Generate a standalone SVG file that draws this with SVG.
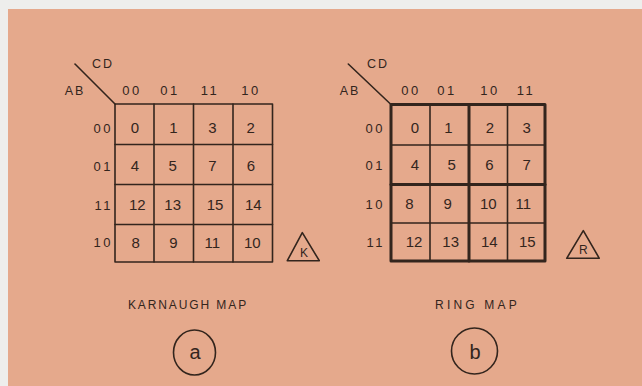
<svg xmlns="http://www.w3.org/2000/svg" width="642" height="386" viewBox="0 0 642 386">
<style>
.ink{fill:none;stroke:#33251d;stroke-linecap:round;stroke-linejoin:round}
.thin{stroke-width:1.6}
.thick{stroke-width:3}
text{font-family:"Liberation Sans","DejaVu Sans",sans-serif;fill:#33251d;text-anchor:middle}
.cell{font-size:15px}
.hdr{font-size:13px;letter-spacing:2.5px}
.row{font-size:13px;letter-spacing:2.5px;text-anchor:end}
.ax{font-size:12.5px;letter-spacing:2px}
.title{font-size:12px}
.tri{font-size:12px}
.cap{font-size:20px}
</style>
<rect x="0" y="0" width="642" height="386" fill="#eeeeec"/>
<rect x="8" y="9" width="634" height="377" fill="#e5a98c"/>

<g id="karnaugh-map">
  <g class="ink thin">
    <line x1="75" y1="64" x2="115" y2="104"/>
    <rect x="115" y="104" width="157.5" height="158"/>
    <line x1="154" y1="104" x2="154" y2="262"/>
    <line x1="193.5" y1="104" x2="193.5" y2="262"/>
    <line x1="233" y1="104" x2="233" y2="262"/>
    <line x1="115" y1="144.5" x2="272.5" y2="144.5"/>
    <line x1="115" y1="184.5" x2="272.5" y2="184.5"/>
    <line x1="115" y1="224.5" x2="272.5" y2="224.5"/>
  </g>
  <text class="ax" x="103" y="67.5">CD</text>
  <text class="ax" x="75" y="95">AB</text>
  <text class="hdr" x="132" y="95">00</text>
  <text class="hdr" x="170" y="95">01</text>
  <text class="hdr" x="210" y="95">11</text>
  <text class="hdr" x="251" y="95">10</text>
  <text class="row" x="113" y="132.5">00</text>
  <text class="row" x="113" y="170.5">01</text>
  <text class="row" x="113" y="209.5">11</text>
  <text class="row" x="113" y="247">10</text>
  <text class="cell" x="135" y="133">0</text>
  <text class="cell" x="173.3" y="133">1</text>
  <text class="cell" x="212.3" y="133">3</text>
  <text class="cell" x="250.7" y="133">2</text>
  <text class="cell" x="135" y="171">4</text>
  <text class="cell" x="172.7" y="171">5</text>
  <text class="cell" x="212.3" y="171">7</text>
  <text class="cell" x="251" y="171">6</text>
  <text class="cell" x="137.3" y="210.3">12</text>
  <text class="cell" x="172.7" y="210.3">13</text>
  <text class="cell" x="215" y="210.3">15</text>
  <text class="cell" x="253.3" y="210.3">14</text>
  <text class="cell" x="135.7" y="247.6">8</text>
  <text class="cell" x="173.3" y="247.6">9</text>
  <text class="cell" x="212.3" y="247.6">11</text>
  <text class="cell" x="252.3" y="247.6">10</text>
</g>

<g id="karnaugh-badge">
  <polygon class="ink thin" points="302.3,232.7 287.3,260.7 319.3,260.7"/>
  <text class="tri" x="304" y="257">K</text>
</g>

<g id="ring-map">
  <g class="ink">
    <line class="thin" x1="348.3" y1="64" x2="391" y2="104.5"/>
    <line class="thin" x1="430" y1="104.5" x2="430" y2="261"/>
    <line class="thin" x1="507.5" y1="104.5" x2="507.5" y2="261"/>
    <line class="thin" x1="391" y1="145" x2="545" y2="145"/>
    <line class="thin" x1="391" y1="223" x2="545" y2="223"/>
    <line class="thick" x1="469" y1="104.5" x2="469" y2="261"/>
    <line class="thick" x1="391" y1="184.5" x2="545" y2="184.5"/>
    <rect class="thick" x="391" y="104.5" width="154" height="156.5"/>
  </g>
  <text class="ax" x="378" y="67.5">CD</text>
  <text class="ax" x="350" y="95">AB</text>
  <text class="hdr" x="411" y="95">00</text>
  <text class="hdr" x="447" y="95">01</text>
  <text class="hdr" x="490" y="95">10</text>
  <text class="hdr" x="526" y="95">11</text>
  <text class="row" x="385" y="132.5">00</text>
  <text class="row" x="385" y="170">01</text>
  <text class="row" x="385" y="208.5">10</text>
  <text class="row" x="385" y="246.5">11</text>
  <text class="cell" x="415" y="133">0</text>
  <text class="cell" x="448.3" y="133">1</text>
  <text class="cell" x="490" y="133">2</text>
  <text class="cell" x="526.7" y="133">3</text>
  <text class="cell" x="415" y="170.3">4</text>
  <text class="cell" x="451.7" y="170.3">5</text>
  <text class="cell" x="489.3" y="170.3">6</text>
  <text class="cell" x="526.7" y="170.3">7</text>
  <text class="cell" x="409.3" y="209.3">8</text>
  <text class="cell" x="447.7" y="209.3">9</text>
  <text class="cell" x="488.3" y="209.3">10</text>
  <text class="cell" x="523.3" y="209.3">11</text>
  <text class="cell" x="414" y="247">12</text>
  <text class="cell" x="450.7" y="247">13</text>
  <text class="cell" x="489.3" y="247">14</text>
  <text class="cell" x="527.3" y="247">15</text>
</g>

<g id="ring-badge">
  <polygon class="ink thin" points="583.3,230.7 566.7,258.3 599.3,258.3"/>
  <text class="tri" x="583.3" y="254.3">R</text>
</g>

<g id="caption-a">
  <text class="title" x="188" y="309.3" style="letter-spacing:1.9px">KARNAUGH MAP</text>
  <ellipse class="ink thin" cx="194.5" cy="352.5" rx="21" ry="22.5"/>
  <text class="cap" x="195" y="358.5">a</text>
</g>

<g id="caption-b">
  <text class="title" x="477.5" y="309.3" style="letter-spacing:3.2px">RING MAP</text>
  <circle class="ink thin" cx="474.5" cy="351" r="23"/>
  <text class="cap" x="475" y="358.5">b</text>
</g>
</svg>
